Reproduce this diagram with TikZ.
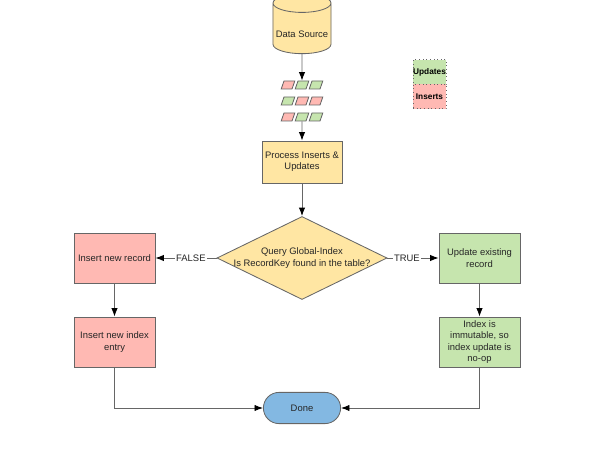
\documentclass[tikz,border=0pt]{standalone}
\usepackage{fontspec}
\setmainfont{Liberation Sans}
\usetikzlibrary{arrows.meta,shapes.geometric,shapes.misc}
\definecolor{chartyellow}{HTML}{FFE6A3}
\definecolor{chartgreen}{HTML}{C6E5AE}
\definecolor{chartred}{HTML}{FFB9B3}
\definecolor{chartblue}{HTML}{83B8E2}
\definecolor{chartline}{HTML}{666666}
\tikzset{
	flowbox/.style={draw=chartline,line width=0.6pt,align=center,font=\fontsize{6.7pt}{8.1pt}\selectfont,text=black!85,minimum width=2.025cm,minimum height=1.25cm,inner sep=1pt},
	recbox/.style={draw=chartline,line width=0.6pt,minimum width=0.27cm,minimum height=0.2cm,inner sep=0pt,xslant=0.35,transform shape},
	keybox/.style={draw=chartline,dotted,line width=0.6pt,minimum width=0.825cm,minimum height=0.62cm,inner sep=0pt,font=\fontsize{5.9pt}{8pt}\selectfont\bfseries},
	flow/.style={draw=chartline,line width=0.6pt,-{Latex[black,length=6pt,width=4.5pt]}},
	edgelabel/.style={fill=white,inner sep=1pt,font=\fontsize{6.7pt}{8pt}\selectfont,text=black!85}
}
\begin{document}
\begin{tikzpicture}[x=0.025cm,y=-0.025cm]
	\useasboundingbox (0,0) rectangle (600,458);
	\node (source) [flowbox,cylinder,shape border rotate=90,shape aspect=0.34,minimum width=1.45cm,minimum height=1.5cm,fill=chartyellow,cylinder uses custom fill,cylinder body fill=chartyellow,cylinder end fill=chartyellow] at (302,30) {\raisebox{-5.5pt}[0pt][0pt]{Data Source}};
	% rows of records
	\foreach \y/\cola/\colb/\colc/\row in {85/chartred/chartgreen/chartgreen/1,101/chartgreen/chartred/chartred/2,117/chartred/chartgreen/chartgreen/3}{
		\node (rec\row a) [recbox,fill=\cola] at (288,\y) {};
		\node (rec\row b) [recbox,fill=\colb] at (302,\y) {};
		\node (rec\row c) [recbox,fill=\colc] at (316,\y) {};
	}
	\node (updates) [keybox,fill=chartgreen] at (429.5,72) {Updates};
	\node (inserts) [keybox,fill=chartred] at (429.5,96.5) {Inserts};
	\node (process) [flowbox,fill=chartyellow,minimum width=2cm,minimum height=1.05cm] at (302,162) {Process Inserts \&\\Updates};
	\node (query) [flowbox,diamond,fill=chartyellow,aspect=2.05,minimum width=4.25cm,minimum height=2.075cm,inner sep=-2.5pt] at (302,258) {Query Global-Index\\Is RecordKey found in the table?};
	\node (insrec) [flowbox,fill=chartred] at (114.5,258) {Insert new record};
	\node (insidx) [flowbox,fill=chartred] at (114.5,342) {Insert new index\\entry};
	\node (updrec) [flowbox,fill=chartgreen] at (479.5,258) {Update existing\\record};
	\node (noop) [flowbox,fill=chartgreen] at (479.5,342) {Index is\\immutable, so\\index update is\\no-op};
	\node (done) [flowbox,rounded rectangle,fill=chartblue,minimum width=2cm,minimum height=0.78cm] at (302,408) {Done};
	\draw[flow] (source) -- (rec1b);
	\draw[flow] (rec3b) -- (process);
	\draw[flow] (process) -- (query);
	\draw[flow] (query) -- node[edgelabel,pos=0.42]{FALSE} (insrec);
	\draw[flow] (query) -- node[edgelabel,pos=0.38]{TRUE} (updrec);
	\draw[flow] (insrec) -- (insidx);
	\draw[flow] (updrec) -- (noop);
	\draw[flow] (insidx) |- (done);
	\draw[flow] (noop) |- (done);
\end{tikzpicture}
\end{document}
